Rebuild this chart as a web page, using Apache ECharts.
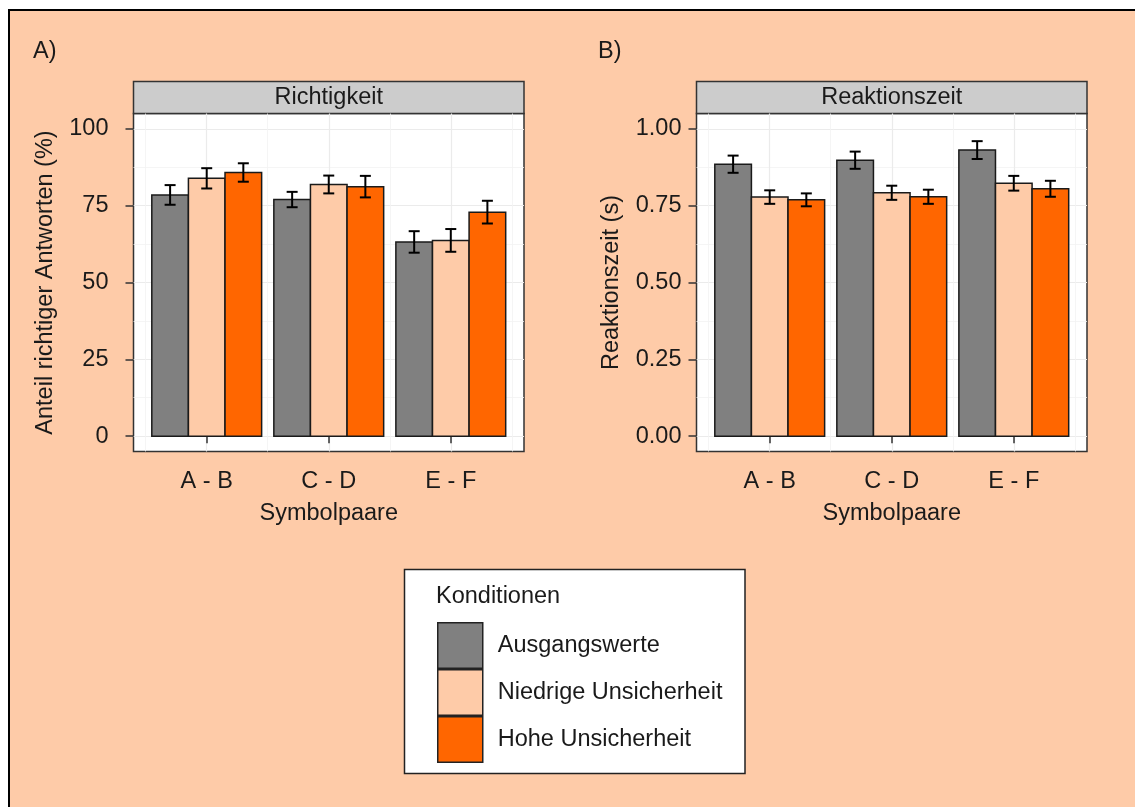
<!DOCTYPE html>
<html>
<head>
<meta charset="utf-8">
<script src="https://cdn.jsdelivr.net/npm/echarts@6/dist/echarts.min.js"></script>
<style>
  html, body { margin: 0; padding: 0; background: #ffffff; overflow: hidden; }
  #frame { position: absolute; left: 8px; top: 9px; width: 1200px; height: 900px;
           background: #FECBA8; border-top: 2px solid #000; border-left: 2px solid #000; }
  #chart { position: absolute; left: 0; top: 0; width: 1135px; height: 807px; }
</style>
</head>
<body>
<div id="frame"></div>
<div id="chart"></div>
<script>
// ---------- data ----------
const categories = ['A - B', 'C - D', 'E - F'];
const conditions = ['Ausgangswerte', 'Niedrige Unsicherheit', 'Hohe Unsicherheit'];

// Richtigkeit (Anteil richtiger Antworten, %)
const accAusgangswerte = [78.5, 77.0, 63.2];
const accNiedrig       = [83.9, 81.9, 63.7];
const accHoch          = [85.8, 81.2, 72.9];
const accAusgangswerteErr = [3.2, 2.5, 3.5];
const accNiedrigErr       = [3.3, 2.9, 3.7];
const accHochErr          = [3.0, 3.5, 3.7];

// Reaktionszeit (s)
const rtAusgangswerte = [0.885, 0.898, 0.931];
const rtNiedrig       = [0.778, 0.792, 0.823];
const rtHoch          = [0.769, 0.779, 0.805];
const rtAusgangswerteErr = [0.028, 0.028, 0.029];
const rtNiedrigErr       = [0.022, 0.023, 0.024];
const rtHochErr          = [0.021, 0.023, 0.026];

const accTicks = [0, 25, 50, 75, 100];
const accMinor = [12.5, 37.5, 62.5, 87.5];
const rtTicks = [0, 0.25, 0.5, 0.75, 1.0];
const rtMinor = [0.125, 0.375, 0.625, 0.875];
const xMajor = [1, 2, 3];
const xMinor = [0.5, 1.5, 2.5, 3.5];

// ---------- styling ----------
const colors = ['#808080', '#FECBA8', '#FF6600'];
const FONT = '"Liberation Sans", Arial, Helvetica, sans-serif';
const TXT = '#1a1a1a';
const FS = 23.5;

const chart = echarts.init(document.getElementById('chart'), null, { renderer: 'canvas' });

const panels = [
  { left: 133.5, means: [accAusgangswerte, accNiedrig, accHoch], errs: [accAusgangswerteErr, accNiedrigErr, accHochErr],
    min: -5, max: 105, ticks: accTicks, minor: accMinor, fmt: v => String(v), labelMargin: 25,
    yName: 'Anteil richtiger Antworten (%)', yGap: 76, strip: 'Richtigkeit', tag: 'A)', tagX: 33 },
  { left: 696.5, means: [rtAusgangswerte, rtNiedrig, rtHoch], errs: [rtAusgangswerteErr, rtNiedrigErr, rtHochErr],
    min: -0.05, max: 1.05, ticks: rtTicks, minor: rtMinor, fmt: v => v.toFixed(2), labelMargin: 15,
    yName: 'Reaktionszeit (s)', yGap: 73, strip: 'Reaktionszeit', tag: 'B)', tagX: 598 }
];
const GW = 390.5, GT = 113.5, GH = 338;

const grids = [], xAxes = [], yAxes = [], series = [], graphics = [];
const dodge = [-0.3, 0, 0.3];
const barHalf = 0.15, capHalf = 0.045;

function renderBar(color) {
  return function (params, api) {
    const x = api.value(0), v = api.value(1), e = api.value(2);
    const tl = api.coord([x - barHalf, v]);
    const br = api.coord([x + barHalf, 0]);
    const top = api.coord([x, v + e]);
    const bot = api.coord([x, v - e]);
    const cw = api.coord([x + capHalf, v])[0] - api.coord([x - capHalf, v])[0];
    const cx = top[0];
    return {
      type: 'group',
      children: [
        { type: 'rect', shape: { x: tl[0], y: tl[1], width: br[0] - tl[0], height: br[1] - tl[1] },
          style: { fill: color, stroke: '#1a1a1a', lineWidth: 1.5 } },
        { type: 'line', shape: { x1: cx, y1: top[1], x2: cx, y2: bot[1] }, style: { stroke: '#000', lineWidth: 2 }, z2: 10 },
        { type: 'line', shape: { x1: cx - cw / 2, y1: top[1], x2: cx + cw / 2, y2: top[1] }, style: { stroke: '#000', lineWidth: 2 }, z2: 10 },
        { type: 'line', shape: { x1: cx - cw / 2, y1: bot[1], x2: cx + cw / 2, y2: bot[1] }, style: { stroke: '#000', lineWidth: 2 }, z2: 10 }
      ]
    };
  };
}

panels.forEach((p, gi) => {
  grids.push({ left: p.left, top: GT, width: GW, height: GH, show: true,
               backgroundColor: '#ffffff', borderColor: '#333333', borderWidth: 1.5 });
  // minor grid x axis
  xAxes.push({ gridIndex: gi, type: 'value', min: 0.4, max: 3.6,
    axisLine: { show: false }, axisLabel: { show: false },
    axisTick: { show: false, customValues: xMinor },
    splitLine: { show: true, lineStyle: { color: '#f3f3f3', width: 0.8 } } });
  // main x axis
  xAxes.push({ gridIndex: gi, type: 'value', min: 0.4, max: 3.6, position: 'bottom',
    axisLine: { show: false },
    axisTick: { show: true, customValues: xMajor, length: 7, lineStyle: { color: '#333333', width: 1.5 } },
    axisLabel: { customValues: xMajor, formatter: v => categories[Math.round(v) - 1],
                 margin: 18, fontSize: FS, color: TXT, fontFamily: FONT },
    splitLine: { show: true, lineStyle: { color: '#ebebeb', width: 1.2 } },
    name: 'Symbolpaare', nameLocation: 'middle', nameGap: 50,
    nameTextStyle: { fontSize: FS, color: TXT, fontFamily: FONT } });
  // minor grid y axis
  yAxes.push({ gridIndex: gi, type: 'value', min: p.min, max: p.max, position: 'left',
    axisLine: { show: false }, axisLabel: { show: false },
    axisTick: { show: false, customValues: p.minor },
    splitLine: { show: true, lineStyle: { color: '#f3f3f3', width: 0.8 } } });
  // main y axis
  yAxes.push({ gridIndex: gi, type: 'value', min: p.min, max: p.max, position: 'left',
    axisLine: { show: false },
    axisTick: { show: true, customValues: p.ticks, length: 8, lineStyle: { color: '#333333', width: 1.5 } },
    axisLabel: { customValues: p.ticks, formatter: p.fmt, margin: p.labelMargin, fontSize: FS, color: TXT, fontFamily: FONT },
    splitLine: { show: true, lineStyle: { color: '#ebebeb', width: 1.2 } },
    name: p.yName, nameLocation: 'middle', nameGap: p.yGap,
    nameTextStyle: { fontSize: FS, color: TXT, fontFamily: FONT } });

  conditions.forEach((c, ci) => {
    const data = categories.map((cat, k) => [k + 1 + dodge[ci], p.means[ci][k], p.errs[ci][k]]);
    series.push({ type: 'custom', name: c, xAxisIndex: gi * 2, yAxisIndex: gi * 2,
      itemStyle: { color: colors[ci], borderColor: '#1a1a1a', borderWidth: 1.5 },
      renderItem: renderBar(colors[ci]), data: data, silent: true });
  });

  // strip
  graphics.push({ type: 'rect', shape: { x: p.left, y: 81.5, width: GW, height: 32 },
    style: { fill: '#cccccc', stroke: '#333333', lineWidth: 1.5 } });
  graphics.push({ type: 'text', x: p.left + GW / 2, y: 97.5,
    style: { text: p.strip, fontSize: FS, fill: TXT, fontFamily: FONT, align: 'center', verticalAlign: 'middle' } });
  graphics.push({ type: 'text', x: p.tagX, y: 52,
    style: { text: p.tag, fontSize: FS, fill: TXT, fontFamily: FONT, align: 'left', verticalAlign: 'middle' } });
});

// legend box + title
graphics.push({ type: 'rect', shape: { x: 404.5, y: 569.5, width: 340.5, height: 204 },
  style: { fill: '#ffffff', stroke: '#222222', lineWidth: 1.5 } });
graphics.push({ type: 'text', x: 436, y: 597,
  style: { text: 'Konditionen', fontSize: FS, fill: TXT, fontFamily: FONT, align: 'left', verticalAlign: 'middle' } });

chart.setOption({
  backgroundColor: 'transparent',
  animation: false,
  textStyle: { fontFamily: FONT },
  grid: grids,
  xAxis: xAxes,
  yAxis: yAxes,
  graphic: graphics,
  legend: {
    left: 437, top: 622, orient: 'vertical', padding: 0,
    itemWidth: 45, itemHeight: 45.5, itemGap: 0, icon: 'rect', selectedMode: false,
    data: conditions.map((c, i) => ({ name: c, itemStyle: { color: colors[i], borderColor: '#222222', borderWidth: 1.5 } })),
    textStyle: { fontSize: FS, color: TXT, fontFamily: FONT, padding: [0, 0, 0, 10] }
  },
  series: series
});
</script>
</body>
</html>
